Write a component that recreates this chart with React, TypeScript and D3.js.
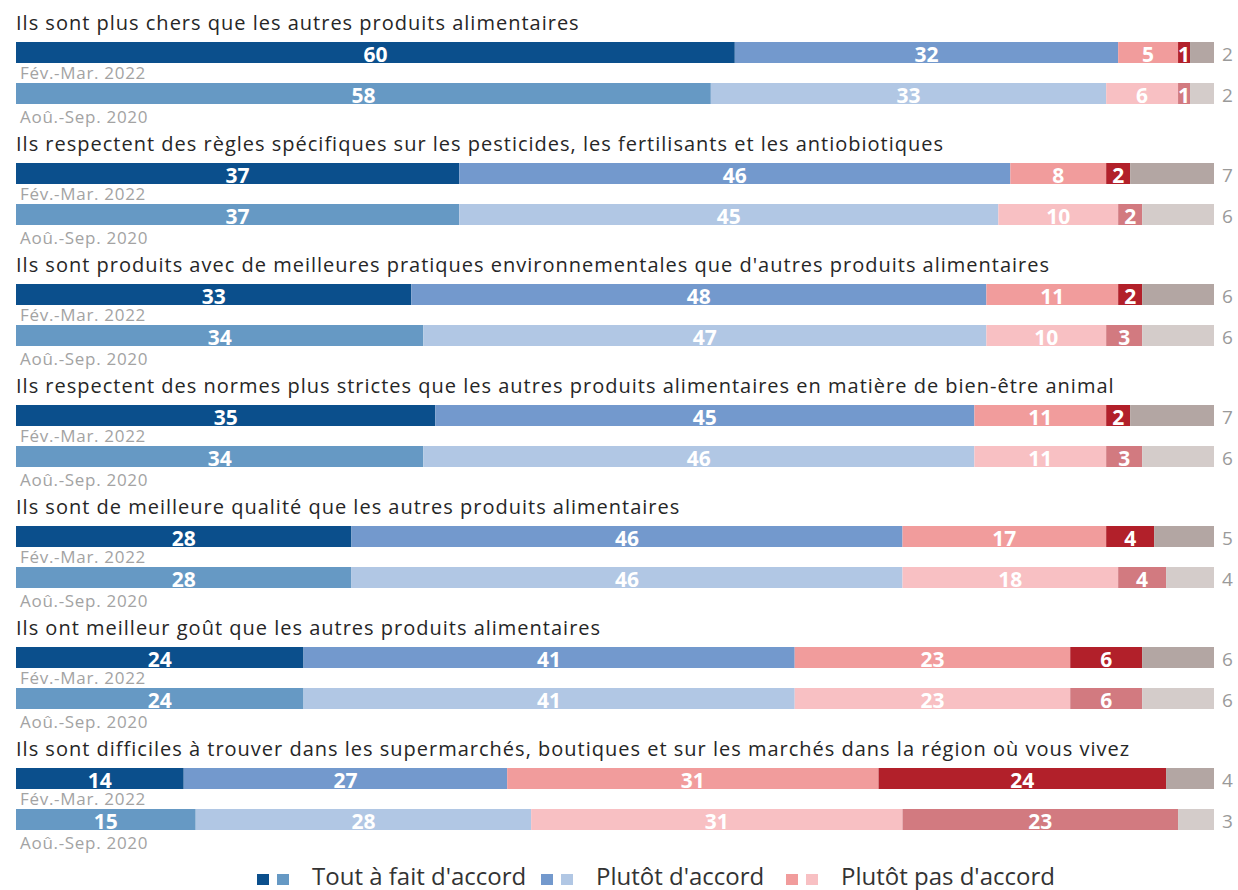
import React from "react";
import * as d3 from "d3";

const questions = [
  "Ils sont plus chers que les autres produits alimentaires",
  "Ils respectent des règles spécifiques sur les pesticides, les fertilisants et les antiobiotiques",
  "Ils sont produits avec de meilleures pratiques environnementales que d'autres produits alimentaires",
  "Ils respectent des normes plus strictes que les autres produits alimentaires en matière de bien-être animal",
  "Ils sont de meilleure qualité que les autres produits alimentaires",
  "Ils ont meilleur goût que les autres produits alimentaires",
  "Ils sont difficiles à trouver dans les supermarchés, boutiques et sur les marchés dans la région où vous vivez",
];

const waves = ["Fév.-Mar. 2022", "Aoû.-Sep. 2020"];

// order: Tout à fait d'accord, Plutôt d'accord, Plutôt pas d'accord, Pas du tout d'accord, NSP
const values2022 = [
  [60, 32, 5, 1, 2],
  [37, 46, 8, 2, 7],
  [33, 48, 11, 2, 6],
  [35, 45, 11, 2, 7],
  [28, 46, 17, 4, 5],
  [24, 41, 23, 6, 6],
  [14, 27, 31, 24, 4],
];

const values2020 = [
  [58, 33, 6, 1, 2],
  [37, 45, 10, 2, 6],
  [34, 47, 10, 3, 6],
  [34, 46, 11, 3, 6],
  [28, 46, 18, 4, 4],
  [24, 41, 23, 6, 6],
  [15, 28, 31, 23, 3],
];

const legendLabels = ["Tout à fait d'accord", "Plutôt d'accord", "Plutôt pas d'accord"];

const colors2022 = ["#0B4F8C", "#7399CD", "#F19C9C", "#B2202A", "#B3A6A3"];
const colors2020 = ["#6699C4", "#B1C7E4", "#F8C0C3", "#D27A80", "#D4CCCA"];

const W = 1238;
const H = 890;
const FONT = "'Open Sans', Lato, sans-serif";

export default function App() {
  const x = d3.scaleLinear().domain([0, 100]).range([16, 1214]);
  const gy = d3.scaleLinear().domain([0, 1]).range([42, 163]);
  const barH = 21;
  const barGap = 41;

  const rows = questions.map((q, i) => ({
    q,
    series: [
      { wave: waves[0], vals: values2022[i], colors: colors2022 },
      { wave: waves[1], vals: values2020[i], colors: colors2020 },
    ],
  }));

  const legendX = [257, 541, 786];
  const legendY = 874;

  return (
    <svg
      width={W}
      height={H}
      style={{ position: "absolute", left: 0, top: 0, background: "#fff" }}
      fontFamily={FONT}
    >
      {rows.map((r, i) => {
        const top = gy(i);
        return (
          <g key={i}>
            <text x={16} y={top - 12} fontSize={20} letterSpacing={1} fill="#262626">
              {r.q}
            </text>
            {r.series.map((s, j) => {
              const y0 = top + j * barGap;
              const cum = [0, ...d3.cumsum(s.vals)];
              return (
                <g key={j}>
                  {s.vals.map((v, k) => (
                    <rect
                      key={k}
                      x={x(cum[k])}
                      y={y0}
                      width={x(cum[k + 1]) - x(cum[k])}
                      height={barH}
                      fill={s.colors[k]}
                    />
                  ))}
                  {s.vals.map((v, k) =>
                    k < 4 ? (
                      <text
                        key={"t" + k}
                        x={(x(cum[k]) + x(cum[k + 1])) / 2}
                        y={y0 + barH - 1.5}
                        textAnchor="middle"
                        fontSize={21}
                        fontWeight="bold"
                        fill="#fff"
                      >
                        {v}
                      </text>
                    ) : (
                      <text
                        key={"t" + k}
                        x={x(100) + 8}
                        y={y0 + barH - 2}
                        fontSize={19}
                        fill="#9a9a9a"
                      >
                        {v}
                      </text>
                    )
                  )}
                  <text
                    x={20}
                    y={y0 + barH + (j === 0 ? 15.5 : 19)}
                    fontSize={17}
                    letterSpacing={0.7}
                    fill="#a3a3a3"
                  >
                    {s.wave}
                  </text>
                </g>
              );
            })}
          </g>
        );
      })}
      {legendLabels.map((l, i) => (
        <g key={l}>
          <rect x={legendX[i]} y={legendY} width={12} height={11} fill={colors2022[i]} />
          <rect x={legendX[i] + 20} y={legendY} width={12} height={11} fill={colors2020[i]} />
          <text x={legendX[i] + 55} y={885} fontSize={24} fill="#333">
            {l}
          </text>
        </g>
      ))}
    </svg>
  );
}
